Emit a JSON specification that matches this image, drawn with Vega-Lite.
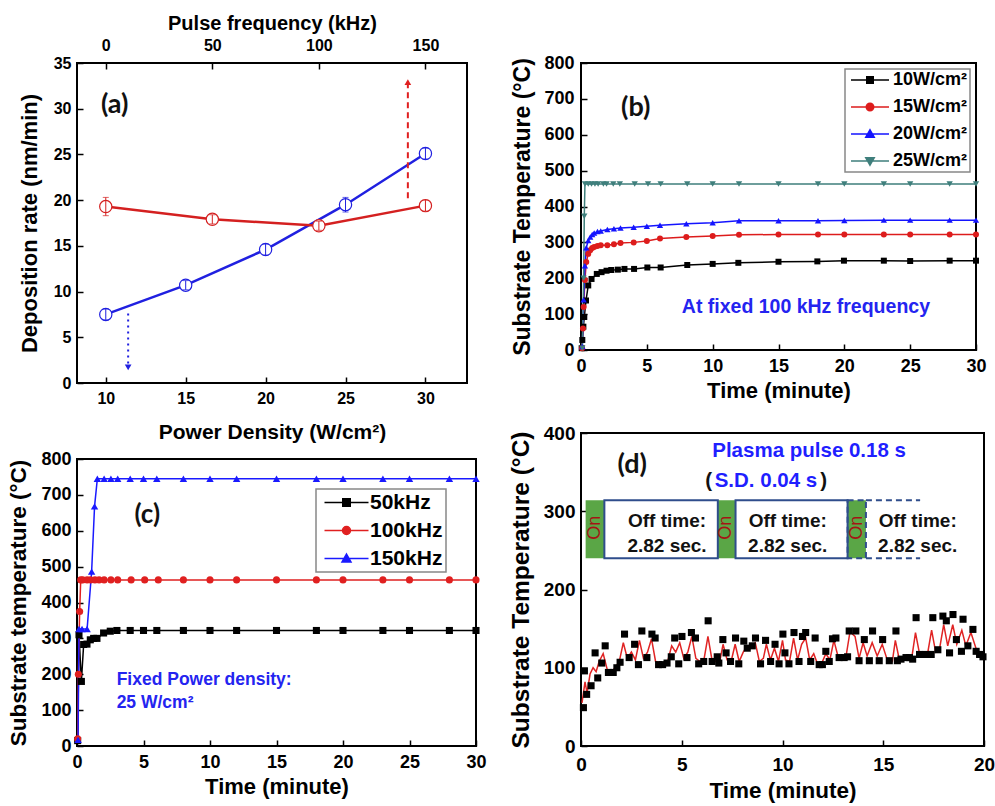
{
  "$schema": "https://vega.github.io/schema/vega-lite/v6.json",
  "background": "white",
  "padding": {"left": 6, "top": 12, "right": 0, "bottom": 0},
  "config": {
    "font": "Liberation Sans",
    "view": {"stroke": "black", "strokeWidth": 2},
    "axis": {"domain": false, "grid": false, "ticks": true, "tickColor": "black", "tickWidth": 1.5, "tickSize": 6, "offset": -6, "labelColor": "black", "titleColor": "black", "labelFontWeight": "bold", "titleFontWeight": "bold", "labelFont": "Liberation Sans", "titleFont": "Liberation Sans", "labelFlush": false, "labelOverlap": false, "zindex": 1},
    "legend": {"strokeWidth": 1.5},
    "text": {"font": "Liberation Sans", "fontWeight": "bold"}
  },
  "datasets": {
    "aBlue": [
      {"p": 10, "v": 7.5, "lo": 6.9, "hi": 8.1},
      {"p": 15, "v": 10.7, "lo": 10.2, "hi": 11.2},
      {"p": 20, "v": 14.6, "lo": 14.0, "hi": 15.2},
      {"p": 25, "v": 19.5, "lo": 18.7, "hi": 20.3},
      {"p": 30, "v": 25.1, "lo": 24.5, "hi": 25.7}
    ],
    "aRed": [
      {"f": 0, "v": 19.3, "lo": 18.3, "hi": 20.3},
      {"f": 50, "v": 17.9, "lo": 17.4, "hi": 18.4},
      {"f": 100, "v": 17.2, "lo": 16.7, "hi": 17.7},
      {"f": 150, "v": 19.4, "lo": 18.8, "hi": 20.0}
    ],
    "bData": [
      {"s": "10W/cm²", "t": 0.05, "T": 5}, {"s": "10W/cm²", "t": 0.1, "T": 28}, {"s": "10W/cm²", "t": 0.18, "T": 65}, {"s": "10W/cm²", "t": 0.25, "T": 92}, {"s": "10W/cm²", "t": 0.38, "T": 138}, {"s": "10W/cm²", "t": 0.55, "T": 180}, {"s": "10W/cm²", "t": 0.8, "T": 198}, {"s": "10W/cm²", "t": 1.2, "T": 212}, {"s": "10W/cm²", "t": 1.56, "T": 217}, {"s": "10W/cm²", "t": 1.94, "T": 221}, {"s": "10W/cm²", "t": 2.3, "T": 223}, {"s": "10W/cm²", "t": 2.8, "T": 224}, {"s": "10W/cm²", "t": 3.3, "T": 226}, {"s": "10W/cm²", "t": 4.03, "T": 226}, {"s": "10W/cm²", "t": 5.04, "T": 230}, {"s": "10W/cm²", "t": 6.05, "T": 230}, {"s": "10W/cm²", "t": 8.07, "T": 237}, {"s": "10W/cm²", "t": 10, "T": 240}, {"s": "10W/cm²", "t": 11.95, "T": 243}, {"s": "10W/cm²", "t": 15, "T": 246}, {"s": "10W/cm²", "t": 17.95, "T": 247}, {"s": "10W/cm²", "t": 19.97, "T": 249}, {"s": "10W/cm²", "t": 23, "T": 249}, {"s": "10W/cm²", "t": 25, "T": 248}, {"s": "10W/cm²", "t": 28, "T": 249}, {"s": "10W/cm²", "t": 30, "T": 249},
      {"s": "15W/cm²", "t": 0.08, "T": 5}, {"s": "15W/cm²", "t": 0.15, "T": 60}, {"s": "15W/cm²", "t": 0.2, "T": 120}, {"s": "15W/cm²", "t": 0.3, "T": 195}, {"s": "15W/cm²", "t": 0.4, "T": 245}, {"s": "15W/cm²", "t": 0.55, "T": 268}, {"s": "15W/cm²", "t": 0.7, "T": 278}, {"s": "15W/cm²", "t": 0.85, "T": 284}, {"s": "15W/cm²", "t": 1.0, "T": 287}, {"s": "15W/cm²", "t": 1.25, "T": 290}, {"s": "15W/cm²", "t": 1.5, "T": 292}, {"s": "15W/cm²", "t": 2.0, "T": 292}, {"s": "15W/cm²", "t": 2.5, "T": 295}, {"s": "15W/cm²", "t": 3.0, "T": 298}, {"s": "15W/cm²", "t": 4.0, "T": 300}, {"s": "15W/cm²", "t": 5.0, "T": 304}, {"s": "15W/cm²", "t": 6.0, "T": 311}, {"s": "15W/cm²", "t": 8.0, "T": 315}, {"s": "15W/cm²", "t": 10, "T": 318}, {"s": "15W/cm²", "t": 12, "T": 321}, {"s": "15W/cm²", "t": 15, "T": 322}, {"s": "15W/cm²", "t": 18, "T": 322}, {"s": "15W/cm²", "t": 20, "T": 322}, {"s": "15W/cm²", "t": 23, "T": 322}, {"s": "15W/cm²", "t": 25, "T": 322}, {"s": "15W/cm²", "t": 28, "T": 322}, {"s": "15W/cm²", "t": 30, "T": 322},
      {"s": "20W/cm²", "t": 0.1, "T": 10}, {"s": "20W/cm²", "t": 0.2, "T": 140}, {"s": "20W/cm²", "t": 0.3, "T": 235}, {"s": "20W/cm²", "t": 0.4, "T": 285}, {"s": "20W/cm²", "t": 0.55, "T": 305}, {"s": "20W/cm²", "t": 0.7, "T": 315}, {"s": "20W/cm²", "t": 0.85, "T": 322}, {"s": "20W/cm²", "t": 1.0, "T": 326}, {"s": "20W/cm²", "t": 1.25, "T": 330}, {"s": "20W/cm²", "t": 1.5, "T": 332}, {"s": "20W/cm²", "t": 2.0, "T": 336}, {"s": "20W/cm²", "t": 2.5, "T": 338}, {"s": "20W/cm²", "t": 3.0, "T": 340}, {"s": "20W/cm²", "t": 4.0, "T": 342}, {"s": "20W/cm²", "t": 5.0, "T": 345}, {"s": "20W/cm²", "t": 6.0, "T": 348}, {"s": "20W/cm²", "t": 8.0, "T": 352}, {"s": "20W/cm²", "t": 10, "T": 355}, {"s": "20W/cm²", "t": 12, "T": 360}, {"s": "20W/cm²", "t": 15, "T": 360}, {"s": "20W/cm²", "t": 18, "T": 360}, {"s": "20W/cm²", "t": 20, "T": 361}, {"s": "20W/cm²", "t": 23, "T": 362}, {"s": "20W/cm²", "t": 25, "T": 362}, {"s": "20W/cm²", "t": 28, "T": 362}, {"s": "20W/cm²", "t": 30, "T": 362},
      {"s": "25W/cm²", "t": 0.1, "T": 5}, {"s": "25W/cm²", "t": 0.2, "T": 200}, {"s": "25W/cm²", "t": 0.25, "T": 373}, {"s": "25W/cm²", "t": 0.3, "T": 463}, {"s": "25W/cm²", "t": 0.55, "T": 463}, {"s": "25W/cm²", "t": 0.8, "T": 463}, {"s": "25W/cm²", "t": 1.06, "T": 463}, {"s": "25W/cm²", "t": 1.3, "T": 463}, {"s": "25W/cm²", "t": 1.7, "T": 463}, {"s": "25W/cm²", "t": 1.94, "T": 463}, {"s": "25W/cm²", "t": 2.45, "T": 463}, {"s": "25W/cm²", "t": 2.95, "T": 463}, {"s": "25W/cm²", "t": 4.08, "T": 463}, {"s": "25W/cm²", "t": 5.09, "T": 463}, {"s": "25W/cm²", "t": 6.05, "T": 463}, {"s": "25W/cm²", "t": 8.07, "T": 463}, {"s": "25W/cm²", "t": 10, "T": 463}, {"s": "25W/cm²", "t": 12, "T": 463}, {"s": "25W/cm²", "t": 15, "T": 463}, {"s": "25W/cm²", "t": 18, "T": 463}, {"s": "25W/cm²", "t": 20, "T": 463}, {"s": "25W/cm²", "t": 23, "T": 463}, {"s": "25W/cm²", "t": 25, "T": 463}, {"s": "25W/cm²", "t": 28, "T": 463}, {"s": "25W/cm²", "t": 30, "T": 463}
    ],
    "cData": [
      {"s": "50kHz", "t": 0.05, "T": 15}, {"s": "50kHz", "t": 0.15, "T": 310}, {"s": "50kHz", "t": 0.33, "T": 180}, {"s": "50kHz", "t": 0.5, "T": 283}, {"s": "50kHz", "t": 0.75, "T": 284}, {"s": "50kHz", "t": 1.0, "T": 296}, {"s": "50kHz", "t": 1.25, "T": 300}, {"s": "50kHz", "t": 1.5, "T": 300}, {"s": "50kHz", "t": 2.0, "T": 315}, {"s": "50kHz", "t": 2.5, "T": 320}, {"s": "50kHz", "t": 3.0, "T": 322}, {"s": "50kHz", "t": 4, "T": 322}, {"s": "50kHz", "t": 5, "T": 322}, {"s": "50kHz", "t": 6, "T": 322}, {"s": "50kHz", "t": 8, "T": 322}, {"s": "50kHz", "t": 10, "T": 322}, {"s": "50kHz", "t": 12, "T": 322}, {"s": "50kHz", "t": 15, "T": 322}, {"s": "50kHz", "t": 18, "T": 322}, {"s": "50kHz", "t": 20, "T": 322}, {"s": "50kHz", "t": 23, "T": 322}, {"s": "50kHz", "t": 25, "T": 322}, {"s": "50kHz", "t": 28, "T": 322}, {"s": "50kHz", "t": 30, "T": 322},
      {"s": "100kHz", "t": 0.05, "T": 20}, {"s": "100kHz", "t": 0.1, "T": 200}, {"s": "100kHz", "t": 0.2, "T": 375}, {"s": "100kHz", "t": 0.28, "T": 463}, {"s": "100kHz", "t": 0.43, "T": 463}, {"s": "100kHz", "t": 0.76, "T": 463}, {"s": "100kHz", "t": 1.02, "T": 463}, {"s": "100kHz", "t": 1.35, "T": 463}, {"s": "100kHz", "t": 1.66, "T": 463}, {"s": "100kHz", "t": 2.04, "T": 463}, {"s": "100kHz", "t": 2.55, "T": 463}, {"s": "100kHz", "t": 3.06, "T": 463}, {"s": "100kHz", "t": 4.07, "T": 463}, {"s": "100kHz", "t": 5.09, "T": 463}, {"s": "100kHz", "t": 6.11, "T": 463}, {"s": "100kHz", "t": 8, "T": 463}, {"s": "100kHz", "t": 10, "T": 463}, {"s": "100kHz", "t": 12, "T": 463}, {"s": "100kHz", "t": 15, "T": 463}, {"s": "100kHz", "t": 18, "T": 463}, {"s": "100kHz", "t": 20, "T": 463}, {"s": "100kHz", "t": 23, "T": 463}, {"s": "100kHz", "t": 25, "T": 463}, {"s": "100kHz", "t": 28, "T": 463}, {"s": "100kHz", "t": 30, "T": 463},
      {"s": "150kHz", "t": 0.08, "T": 17}, {"s": "150kHz", "t": 0.15, "T": 326}, {"s": "150kHz", "t": 0.38, "T": 326}, {"s": "150kHz", "t": 0.76, "T": 326}, {"s": "150kHz", "t": 1.1, "T": 486}, {"s": "150kHz", "t": 1.32, "T": 668}, {"s": "150kHz", "t": 1.53, "T": 745}, {"s": "150kHz", "t": 2.04, "T": 745}, {"s": "150kHz", "t": 2.55, "T": 745}, {"s": "150kHz", "t": 3.06, "T": 745}, {"s": "150kHz", "t": 4, "T": 745}, {"s": "150kHz", "t": 5, "T": 745}, {"s": "150kHz", "t": 6, "T": 745}, {"s": "150kHz", "t": 8, "T": 745}, {"s": "150kHz", "t": 10, "T": 745}, {"s": "150kHz", "t": 12, "T": 745}, {"s": "150kHz", "t": 15, "T": 745}, {"s": "150kHz", "t": 18, "T": 745}, {"s": "150kHz", "t": 20, "T": 745}, {"s": "150kHz", "t": 23, "T": 745}, {"s": "150kHz", "t": 25, "T": 745}, {"s": "150kHz", "t": 28, "T": 745}, {"s": "150kHz", "t": 30, "T": 745}
    ],
    "dBlack": [
      {"t": 0.12, "T": 49}, {"t": 0.17, "T": 96}, {"t": 0.28, "T": 66}, {"t": 0.5, "T": 77}, {"t": 0.7, "T": 119}, {"t": 0.83, "T": 87}, {"t": 1.03, "T": 106}, {"t": 1.2, "T": 128}, {"t": 1.36, "T": 94}, {"t": 1.6, "T": 94}, {"t": 1.78, "T": 100}, {"t": 1.94, "T": 107}, {"t": 2.16, "T": 143}, {"t": 2.39, "T": 113}, {"t": 2.66, "T": 130}, {"t": 2.85, "T": 104}, {"t": 3.02, "T": 147}, {"t": 3.27, "T": 113}, {"t": 3.52, "T": 143}, {"t": 3.68, "T": 138}, {"t": 3.85, "T": 104}, {"t": 4.05, "T": 104}, {"t": 4.27, "T": 106}, {"t": 4.48, "T": 114}, {"t": 4.65, "T": 138}, {"t": 4.85, "T": 105}, {"t": 5.01, "T": 140}, {"t": 5.26, "T": 113}, {"t": 5.48, "T": 145}, {"t": 5.68, "T": 138}, {"t": 5.84, "T": 105}, {"t": 6.09, "T": 108}, {"t": 6.31, "T": 160}, {"t": 6.51, "T": 108}, {"t": 6.76, "T": 114}, {"t": 6.84, "T": 106}, {"t": 7.04, "T": 136}, {"t": 7.2, "T": 119}, {"t": 7.42, "T": 108}, {"t": 7.67, "T": 138}, {"t": 7.83, "T": 105}, {"t": 8.08, "T": 134}, {"t": 8.25, "T": 125}, {"t": 8.5, "T": 128}, {"t": 8.66, "T": 138}, {"t": 8.91, "T": 105}, {"t": 9.16, "T": 135}, {"t": 9.41, "T": 108}, {"t": 9.63, "T": 130}, {"t": 9.83, "T": 105}, {"t": 10.02, "T": 143}, {"t": 10.12, "T": 119}, {"t": 10.32, "T": 105}, {"t": 10.57, "T": 145}, {"t": 10.82, "T": 108}, {"t": 10.99, "T": 140}, {"t": 11.15, "T": 145}, {"t": 11.4, "T": 108}, {"t": 11.62, "T": 138}, {"t": 11.82, "T": 104}, {"t": 11.98, "T": 104}, {"t": 12.15, "T": 121}, {"t": 12.32, "T": 108}, {"t": 12.48, "T": 137}, {"t": 12.65, "T": 138}, {"t": 12.81, "T": 113}, {"t": 13.06, "T": 113}, {"t": 13.23, "T": 114}, {"t": 13.31, "T": 147}, {"t": 13.64, "T": 147}, {"t": 13.8, "T": 109}, {"t": 14.06, "T": 136}, {"t": 14.31, "T": 109}, {"t": 14.47, "T": 147}, {"t": 14.8, "T": 109}, {"t": 14.97, "T": 136}, {"t": 15.3, "T": 109}, {"t": 15.63, "T": 147}, {"t": 15.7, "T": 109}, {"t": 15.88, "T": 111}, {"t": 16.13, "T": 113}, {"t": 16.3, "T": 113}, {"t": 16.46, "T": 111}, {"t": 16.63, "T": 164}, {"t": 16.8, "T": 117}, {"t": 17.13, "T": 117}, {"t": 17.38, "T": 117}, {"t": 17.46, "T": 164}, {"t": 17.71, "T": 123}, {"t": 17.96, "T": 166}, {"t": 18.13, "T": 160}, {"t": 18.29, "T": 119}, {"t": 18.46, "T": 168}, {"t": 18.63, "T": 136}, {"t": 18.88, "T": 121}, {"t": 18.96, "T": 162}, {"t": 19.2, "T": 128}, {"t": 19.45, "T": 149}, {"t": 19.61, "T": 121}, {"t": 19.78, "T": 117}, {"t": 19.95, "T": 114}
    ],
    "dRed": [
      {"t": 0.05, "T": 55}, {"t": 0.2, "T": 82}, {"t": 0.3, "T": 68}, {"t": 0.45, "T": 92}, {"t": 0.6, "T": 100}, {"t": 0.75, "T": 95}, {"t": 0.9, "T": 108}, {"t": 1.1, "T": 118}, {"t": 1.3, "T": 98}, {"t": 1.5, "T": 95}, {"t": 1.7, "T": 100}, {"t": 1.9, "T": 108}, {"t": 2.1, "T": 132}, {"t": 2.3, "T": 112}, {"t": 2.5, "T": 120}, {"t": 2.7, "T": 110}, {"t": 2.9, "T": 135}, {"t": 3.1, "T": 112}, {"t": 3.3, "T": 120}, {"t": 3.5, "T": 137}, {"t": 3.7, "T": 108}, {"t": 3.9, "T": 106}, {"t": 4.1, "T": 106}, {"t": 4.3, "T": 108}, {"t": 4.5, "T": 128}, {"t": 4.7, "T": 120}, {"t": 4.9, "T": 132}, {"t": 5.1, "T": 112}, {"t": 5.3, "T": 120}, {"t": 5.5, "T": 140}, {"t": 5.7, "T": 112}, {"t": 5.9, "T": 108}, {"t": 6.1, "T": 110}, {"t": 6.3, "T": 140}, {"t": 6.5, "T": 110}, {"t": 6.7, "T": 108}, {"t": 6.9, "T": 110}, {"t": 7.05, "T": 130}, {"t": 7.25, "T": 110}, {"t": 7.45, "T": 108}, {"t": 7.65, "T": 130}, {"t": 7.85, "T": 108}, {"t": 8.05, "T": 120}, {"t": 8.25, "T": 128}, {"t": 8.45, "T": 128}, {"t": 8.65, "T": 132}, {"t": 8.85, "T": 108}, {"t": 9.05, "T": 112}, {"t": 9.2, "T": 130}, {"t": 9.4, "T": 110}, {"t": 9.6, "T": 125}, {"t": 9.8, "T": 108}, {"t": 10.0, "T": 135}, {"t": 10.15, "T": 110}, {"t": 10.35, "T": 108}, {"t": 10.55, "T": 138}, {"t": 10.75, "T": 110}, {"t": 10.95, "T": 130}, {"t": 11.15, "T": 138}, {"t": 11.35, "T": 110}, {"t": 11.55, "T": 118}, {"t": 11.75, "T": 104}, {"t": 11.95, "T": 106}, {"t": 12.15, "T": 118}, {"t": 12.35, "T": 110}, {"t": 12.55, "T": 135}, {"t": 12.75, "T": 115}, {"t": 12.95, "T": 112}, {"t": 13.15, "T": 114}, {"t": 13.35, "T": 146}, {"t": 13.6, "T": 140}, {"t": 13.8, "T": 112}, {"t": 14.0, "T": 132}, {"t": 14.2, "T": 115}, {"t": 14.45, "T": 132}, {"t": 14.7, "T": 115}, {"t": 14.95, "T": 130}, {"t": 15.2, "T": 110}, {"t": 15.45, "T": 108}, {"t": 15.6, "T": 135}, {"t": 15.8, "T": 110}, {"t": 16.0, "T": 112}, {"t": 16.2, "T": 112}, {"t": 16.4, "T": 110}, {"t": 16.6, "T": 145}, {"t": 16.8, "T": 118}, {"t": 17.0, "T": 118}, {"t": 17.2, "T": 118}, {"t": 17.4, "T": 148}, {"t": 17.6, "T": 120}, {"t": 17.8, "T": 125}, {"t": 18.0, "T": 155}, {"t": 18.2, "T": 128}, {"t": 18.45, "T": 155}, {"t": 18.65, "T": 130}, {"t": 18.9, "T": 148}, {"t": 19.1, "T": 128}, {"t": 19.35, "T": 145}, {"t": 19.6, "T": 125}, {"t": 19.8, "T": 118}, {"t": 20, "T": 115}
    ]
  },
  "resolve": {"scale": {"color": "independent", "shape": "independent"}},
  "spacing": 19,
  "hconcat": [
    {
      "vconcat": [
        {
          "width": 390,
          "height": 320,
          "resolve": {"scale": {"x": "independent"}},
          "layer": [
            {
              "layer": [
                {
                  "data": {"name": "aBlue"},
                  "mark": {"type": "line", "color": "#2020e0", "strokeWidth": 2.5},
                  "encoding": {
                    "x": {"field": "p", "type": "quantitative", "scale": {"domain": [8.2, 32.6], "nice": false},
                      "axis": {"title": "Power Density (W/cm²)", "values": [10, 15, 20, 25, 30], "labelOverlap": false, "labelFontSize": 16, "titleFontSize": 21, "labelPadding": 7, "titlePadding": 15}},
                    "y": {"field": "v", "type": "quantitative", "scale": {"domain": [0, 35], "nice": false}, "title": "Deposition rate (nm/min)",
                      "axis": {"title": "Deposition rate (nm/min)", "values": [0, 5, 10, 15, 20, 25, 30, 35], "labelOverlap": false, "labelFontSize": 16, "titleFontSize": 22, "labelPadding": 6, "titlePadding": 12}}
                  }
                },
                {
                  "data": {"name": "aBlue"},
                  "mark": {"type": "point", "shape": "circle", "size": 150, "filled": true, "fill": "white", "fillOpacity": 1, "stroke": "#2020e0", "strokeWidth": 1.2, "opacity": 1},
                  "encoding": {"x": {"field": "p", "type": "quantitative"}, "y": {"field": "v", "type": "quantitative", "title": "Deposition rate (nm/min)"}}
                },
                {
                  "data": {"name": "aBlue"},
                  "mark": {"type": "errorbar", "ticks": {"size": 6}, "color": "#2020e0"},
                  "encoding": {"x": {"field": "p", "type": "quantitative"}, "y": {"field": "lo", "type": "quantitative", "title": "Deposition rate (nm/min)"}, "y2": {"field": "hi"}}
                },
                {
                  "data": {"values": [{"p": 28.9, "y1": 20.2, "y2": 32.6}]},
                  "mark": {"type": "rule", "color": "#e02020", "strokeWidth": 2, "strokeDash": [6, 4]},
                  "encoding": {"x": {"field": "p", "type": "quantitative"}, "y": {"field": "y1", "type": "quantitative", "title": "Deposition rate (nm/min)"}, "y2": {"field": "y2"}}
                },
                {
                  "data": {"values": [{"p": 28.9, "y": 32.9}]},
                  "mark": {"type": "point", "shape": "triangle-up", "size": 45, "filled": true, "color": "#e02020", "opacity": 1},
                  "encoding": {"x": {"field": "p", "type": "quantitative"}, "y": {"field": "y", "type": "quantitative", "title": "Deposition rate (nm/min)"}}
                },
                {
                  "data": {"values": [{"p": 11.4, "y1": 7.6, "y2": 2.0}]},
                  "mark": {"type": "rule", "color": "#2020e0", "strokeWidth": 2, "strokeDash": [2, 4]},
                  "encoding": {"x": {"field": "p", "type": "quantitative"}, "y": {"field": "y1", "type": "quantitative", "title": "Deposition rate (nm/min)"}, "y2": {"field": "y2"}}
                },
                {
                  "data": {"values": [{"p": 11.4, "y": 1.7}]},
                  "mark": {"type": "point", "shape": "triangle-down", "size": 45, "filled": true, "color": "#2020e0", "opacity": 1},
                  "encoding": {"x": {"field": "p", "type": "quantitative"}, "y": {"field": "y", "type": "quantitative", "title": "Deposition rate (nm/min)"}}
                },
                {
                  "data": {"values": [{"p": 10.56, "y": 30.4, "txt": "(a)"}]},
                  "mark": {"type": "text", "fontSize": 27, "font": "Lato", "fontWeight": "bold", "color": "#111111"},
                  "encoding": {"x": {"field": "p", "type": "quantitative"}, "y": {"field": "y", "type": "quantitative", "title": "Deposition rate (nm/min)"}, "text": {"field": "txt"}}
                }
              ]
            },
            {
              "layer": [
                {
                  "data": {"name": "aRed"},
                  "mark": {"type": "line", "color": "#d42020", "strokeWidth": 2.5},
                  "encoding": {
                    "x": {"field": "f", "type": "quantitative", "scale": {"domain": [-13.5, 169.5], "nice": false},
                      "axis": {"orient": "top", "title": "Pulse frequency (kHz)", "values": [0, 50, 100, 150], "labelOverlap": false, "labelFontSize": 16, "titleFontSize": 20, "labelPadding": 10, "titlePadding": 4}},
                    "y": {"field": "v", "type": "quantitative", "title": "Deposition rate (nm/min)"}
                  }
                },
                {
                  "data": {"name": "aRed"},
                  "mark": {"type": "point", "shape": "circle", "size": 150, "filled": true, "fill": "white", "fillOpacity": 1, "stroke": "#d42020", "strokeWidth": 1.2, "opacity": 1},
                  "encoding": {"x": {"field": "f", "type": "quantitative"}, "y": {"field": "v", "type": "quantitative", "title": "Deposition rate (nm/min)"}}
                },
                {
                  "data": {"name": "aRed"},
                  "mark": {"type": "errorbar", "ticks": {"size": 6}, "color": "#d42020"},
                  "encoding": {"x": {"field": "f", "type": "quantitative"}, "y": {"field": "lo", "type": "quantitative", "title": "Deposition rate (nm/min)"}, "y2": {"field": "hi"}}
                }
              ]
            }
          ]
        },
        {
          "width": 399,
          "height": 287,
          "data": {"name": "cData"},
          "encoding": {
            "x": {"field": "t", "type": "quantitative", "scale": {"domain": [0, 30], "nice": false},
              "axis": {"title": "Time (minute)", "values": [0, 5, 10, 15, 20, 25, 30], "labelOverlap": false, "labelFontSize": 18, "titleFontSize": 22, "labelPadding": 7, "titlePadding": 5}},
            "y": {"field": "T", "type": "quantitative", "scale": {"domain": [0, 800], "nice": false},
              "axis": {"title": "Substrate temperature (°C)", "values": [0, 100, 200, 300, 400, 500, 600, 700, 800], "labelOverlap": false, "labelFontSize": 18, "titleFontSize": 22.5, "labelPadding": 6, "titlePadding": 10}},
            "color": {"field": "s", "type": "nominal", "scale": {"domain": ["50kHz", "100kHz", "150kHz"], "range": ["black", "#e02020", "#1a1aff"]},
              "legend": {"title": null, "orient": "top-right", "offset": 30, "labelFontSize": 21, "labelFontWeight": "bold", "labelFont": "Liberation Sans", "labelColor": "black", "symbolSize": 100, "symbolOffset": 17, "labelOffset": 13, "strokeColor": "#888888", "padding": 3, "rowPadding": 6,
                "encode": {"symbols": {"update": {
                  "shape": {"signal": "['M-4.4,0H4.4M-0.75,-0.75H0.75V0.75H-0.75Z','M-4.4,0H4.4M0.8,0A0.8,0.8,0,1,1,-0.8,0A0.8,0.8,0,1,1,0.8,0Z','M-4.4,0H4.4M0,-0.9L0.9,0.7L-0.9,0.7Z'][datum.index]"},
                  "fill": {"signal": "['black','#e02020','#1a1aff'][datum.index]"},
                  "stroke": {"signal": "['black','#e02020','#1a1aff'][datum.index]"},
                  "strokeWidth": {"value": 1.5}, "opacity": {"value": 1}, "fillOpacity": {"value": 1}}}}}}
          },
          "layer": [
            {"mark": {"type": "line", "strokeWidth": 1.5}},
            {"transform": [{"filter": "datum.s === '50kHz'"}], "mark": {"type": "point", "shape": "square", "filled": true, "size": 50, "opacity": 1}},
            {"transform": [{"filter": "datum.s === '100kHz'"}], "mark": {"type": "point", "shape": "circle", "filled": true, "size": 50, "opacity": 1}},
            {"transform": [{"filter": "datum.s === '150kHz'"}], "mark": {"type": "point", "shape": "triangle-up", "filled": true, "size": 55, "opacity": 1}},
            {
              "data": {"values": [{"t": 5.28, "T": 644, "txt": "(c)"}]},
              "mark": {"type": "text", "fontSize": 26, "font": "Lato", "fontWeight": "bold", "color": "#111111"},
              "encoding": {"color": {"value": "#111111"}, "text": {"field": "txt"}}
            },
            {
              "data": {"values": [{"t": 2.98, "T": 184, "txt": "Fixed Power density:"}, {"t": 2.98, "T": 120, "txt": "25 W/cm²"}]},
              "mark": {"type": "text", "fontSize": 17.5, "align": "left"},
              "encoding": {"color": {"value": "#2424f0"}, "text": {"field": "txt"}}
            }
          ]
        }
      ],
      "spacing": 76,
      "bounds": "flush",
      "resolve": {"scale": {"color": "independent", "shape": "independent"}}
    },
    {
      "vconcat": [
        {
          "width": 395,
          "height": 287,
          "data": {"name": "bData"},
          "encoding": {
            "x": {"field": "t", "type": "quantitative", "scale": {"domain": [0, 30], "nice": false},
              "axis": {"title": "Time (minute)", "values": [0, 5, 10, 15, 20, 25, 30], "labelOverlap": false, "labelFontSize": 18, "titleFontSize": 22, "labelPadding": 7, "titlePadding": 5}},
            "y": {"field": "T", "type": "quantitative", "scale": {"domain": [0, 800], "nice": false},
              "axis": {"title": "Substrate Temperature (°C)", "values": [0, 100, 200, 300, 400, 500, 600, 700, 800], "labelOverlap": false, "labelFontSize": 18, "titleFontSize": 23, "labelPadding": 7, "titlePadding": 9}},
            "color": {"field": "s", "type": "nominal", "scale": {"domain": ["10W/cm²", "15W/cm²", "20W/cm²", "25W/cm²"], "range": ["black", "#dd1c1c", "#1414ff", "#3f7f7c"]},
              "legend": {"title": null, "orient": "top-right", "offset": 6, "labelFontSize": 18, "labelFontWeight": "bold", "labelFont": "Liberation Sans", "labelColor": "black", "symbolSize": 100, "symbolOffset": 14, "labelOffset": 14, "strokeColor": "#888888", "padding": 2, "rowPadding": 9,
                "encode": {"symbols": {"update": {
                  "shape": {"signal": "['M-3.8,0H3.8M-0.65,-0.65H0.65V0.65H-0.65Z','M-3.8,0H3.8M0.75,0A0.75,0.75,0,1,1,-0.75,0A0.75,0.75,0,1,1,0.75,0Z','M-3.8,0H3.8M0,-0.85L0.85,0.65L-0.85,0.65Z','M-3.8,0H3.8M0,0.85L0.85,-0.65L-0.85,-0.65Z'][datum.index]"},
                  "fill": {"signal": "['black','#dd1c1c','#1414ff','#3f7f7c'][datum.index]"},
                  "stroke": {"signal": "['black','#dd1c1c','#1414ff','#3f7f7c'][datum.index]"},
                  "strokeWidth": {"value": 1.5}, "opacity": {"value": 1}, "fillOpacity": {"value": 1}}}}}}
          },
          "layer": [
            {"mark": {"type": "line", "strokeWidth": 1.5}},
            {"transform": [{"filter": "datum.s === '10W/cm²'"}], "mark": {"type": "point", "shape": "square", "filled": true, "size": 36, "opacity": 1}},
            {"transform": [{"filter": "datum.s === '15W/cm²'"}], "mark": {"type": "point", "shape": "circle", "filled": true, "size": 36, "opacity": 1}},
            {"transform": [{"filter": "datum.s === '20W/cm²'"}], "mark": {"type": "point", "shape": "triangle-up", "filled": true, "size": 40, "opacity": 1}},
            {"transform": [{"filter": "datum.s === '25W/cm²'"}], "mark": {"type": "point", "shape": "triangle-down", "filled": true, "size": 40, "opacity": 1}},
            {
              "data": {"values": [{"t": 4.16, "T": 675, "txt": "(b)"}]},
              "mark": {"type": "text", "fontSize": 27, "font": "Lato", "fontWeight": "bold"},
              "encoding": {"color": {"value": "#111111"}, "text": {"field": "txt"}}
            },
            {
              "data": {"values": [{"t": 17.08, "T": 119, "txt": "At fixed 100 kHz frequency"}]},
              "mark": {"type": "text", "fontSize": 19.5},
              "encoding": {"color": {"value": "#2424f0"}, "text": {"field": "txt"}}
            }
          ]
        },
        {
          "width": 403,
          "height": 313,
          "layer": [
            {
              "data": {"name": "dRed"},
              "mark": {"type": "line", "color": "#e02424", "strokeWidth": 1.5},
              "encoding": {
                "x": {"field": "t", "type": "quantitative", "scale": {"domain": [0, 20], "nice": false},
                  "axis": {"title": "Time (minute)", "values": [0, 5, 10, 15, 20], "labelOverlap": false, "labelFontSize": 19, "titleFontSize": 22.5, "labelPadding": 9, "titlePadding": 5}},
                "y": {"field": "T", "type": "quantitative", "scale": {"domain": [0, 400], "nice": false},
                  "axis": {"title": "Substrate Temperature (°C)", "values": [0, 100, 200, 300, 400], "labelOverlap": false, "labelFontSize": 19, "titleFontSize": 24.5, "labelPadding": 6, "titlePadding": 10}}
              }
            },
            {
              "data": {"name": "dBlack"},
              "mark": {"type": "point", "shape": "square", "filled": true, "size": 50, "color": "black", "opacity": 1},
              "encoding": {"x": {"field": "t", "type": "quantitative"}, "y": {"field": "T", "type": "quantitative"}}
            },
            {
              "data": {"values": [{"a": 0.23, "b": 1.16}, {"a": 6.79, "b": 7.67}, {"a": 13.23, "b": 14.14}]},
              "mark": {"type": "rect", "fill": "#5aa646"},
              "encoding": {"x": {"field": "a", "type": "quantitative"}, "x2": {"field": "b"}, "y": {"datum": 240, "type": "quantitative"}, "y2": {"datum": 314}}
            },
            {
              "data": {"values": [{"a": 1.16, "b": 6.79}, {"a": 7.67, "b": 13.23}]},
              "mark": {"type": "rect", "fill": "white", "stroke": "#2f4d8c", "strokeWidth": 2},
              "encoding": {"x": {"field": "a", "type": "quantitative"}, "x2": {"field": "b"}, "y": {"datum": 240, "type": "quantitative"}, "y2": {"datum": 314}}
            },
            {
              "data": {"values": [{"a": 13.23, "b": 14.14}]},
              "mark": {"type": "rect", "fill": null, "fillOpacity": 0, "stroke": "#2f4d8c", "strokeWidth": 2, "strokeDash": [6, 4]},
              "encoding": {"x": {"field": "a", "type": "quantitative"}, "x2": {"field": "b"}, "y": {"datum": 240, "type": "quantitative"}, "y2": {"datum": 314}}
            },
            {
              "data": {"values": [{"a": 14.14, "b": 16.83, "y": 314}, {"a": 14.14, "b": 16.83, "y": 240}]},
              "mark": {"type": "rule", "stroke": "#2f4d8c", "strokeWidth": 2, "strokeDash": [6, 4]},
              "encoding": {"x": {"field": "a", "type": "quantitative"}, "x2": {"field": "b"}, "y": {"field": "y", "type": "quantitative"}}
            },
            {
              "data": {"values": [{"x": 0.70, "txt": "On"}, {"x": 7.22, "txt": "On"}, {"x": 13.68, "txt": "On"}]},
              "mark": {"type": "text", "fontSize": 18, "angle": 270, "color": "#a31515", "fontWeight": "normal"},
              "encoding": {"x": {"field": "x", "type": "quantitative"}, "y": {"datum": 279, "type": "quantitative"}, "text": {"field": "txt"}}
            },
            {
              "data": {"values": [{"x": 4.27, "y": 287, "txt": "Off time:"}, {"x": 4.27, "y": 255, "txt": "2.82 sec."}, {"x": 10.26, "y": 287, "txt": "Off time:"}, {"x": 10.26, "y": 255, "txt": "2.82 sec."}, {"x": 16.71, "y": 287, "txt": "Off time:"}, {"x": 16.71, "y": 255, "txt": "2.82 sec."}]},
              "mark": {"type": "text", "fontSize": 19, "color": "#111111"},
              "encoding": {"x": {"field": "x", "type": "quantitative"}, "y": {"field": "y", "type": "quantitative"}, "text": {"field": "txt"}}
            },
            {
              "data": {"values": [{"x": 2.54, "y": 359, "txt": "(d)"}]},
              "mark": {"type": "text", "fontSize": 27, "font": "Lato", "fontWeight": "bold", "color": "#111111"},
              "encoding": {"x": {"field": "x", "type": "quantitative"}, "y": {"field": "y", "type": "quantitative"}, "text": {"field": "txt"}}
            },
            {
              "data": {"values": [{"x": 11.32, "y": 377, "txt": "Plasma pulse 0.18 s"}, {"x": 9.18, "y": 339, "txt": "S.D. 0.04 s"}]},
              "mark": {"type": "text", "fontSize": 20.5, "color": "#1f1fff"},
              "encoding": {"x": {"field": "x", "type": "quantitative"}, "y": {"field": "y", "type": "quantitative"}, "text": {"field": "txt"}}
            },
            {
              "data": {"values": [{"x": 6.5, "y": 339, "txt": "(", "al": "right"}, {"x": 11.87, "y": 339, "txt": ")", "al": "left"}]},
              "mark": {"type": "text", "fontSize": 20.5, "color": "#111111", "align": {"expr": "datum.al"}},
              "encoding": {"x": {"field": "x", "type": "quantitative"}, "y": {"field": "y", "type": "quantitative"}, "text": {"field": "txt"}}
            }
          ]
        }
      ],
      "spacing": 83,
      "bounds": "flush",
      "resolve": {"scale": {"color": "independent", "shape": "independent"}}
    }
  ]
}
